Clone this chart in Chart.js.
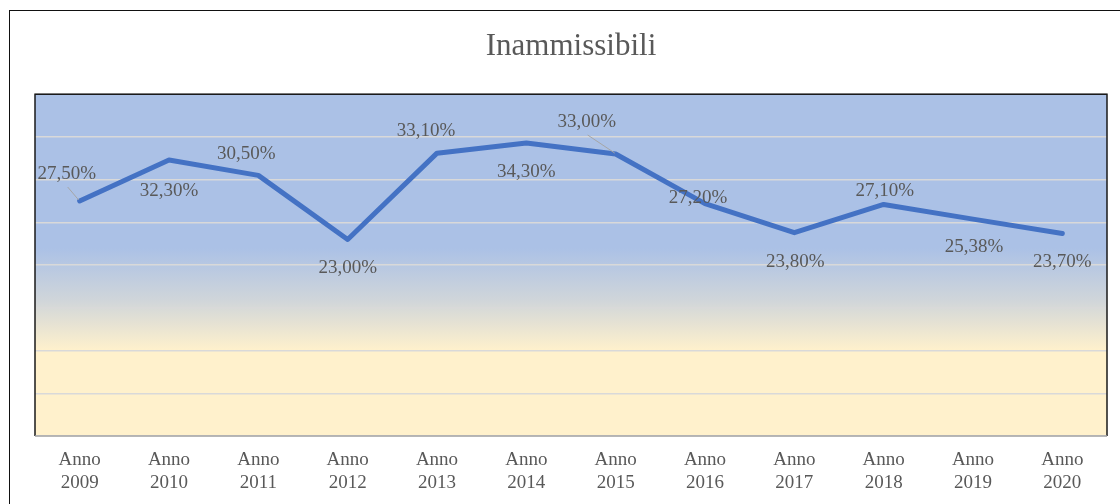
<!DOCTYPE html>
<html>
<head>
<meta charset="utf-8">
<script src="https://cdn.jsdelivr.net/npm/chart.js@4.4.1/dist/chart.umd.min.js"></script>
<style>
  html, body { margin: 0; padding: 0; background: #fff; overflow: hidden; }
  #frame { position: absolute; left: 9px; top: 10px; width: 1140px; height: 540px; border: 1.5px solid #111; }
  #wrap { position: absolute; left: 0; top: 0; width: 1120px; height: 504px; }
</style>
</head>
<body>
<div id="frame"></div>
<div id="wrap"><canvas id="chart-inammissibili"></canvas></div>
<script>
// Dati
const anni = ['2009', '2010', '2011', '2012', '2013', '2014', '2015', '2016', '2017', '2018', '2019', '2020'];
const inammissibili = [27.5, 32.3, 30.5, 23.0, 33.1, 34.3, 33.0, 27.2, 23.8, 27.1, 25.38, 23.7];
const yMin = 0;
const yMax = 40;
const yStep = 5;

const fontFamily = '"Liberation Serif", "DejaVu Serif", serif';
const textColor = '#595959';

// posizione delle etichette rispetto al punto (dx, dy, linea guida)
const labelOffsets = [
  [-13, -27, true], [0, 31], [-12, -21], [0, 29], [-11, -22], [0, 29],
  [-29, -32, true], [-7, -6], [1, 29], [1, -13], [1, 28], [0, 29]
];

const plotArea = {
  id: 'plotArea',
  beforeDraw(chart) {
    const { ctx, chartArea: a } = chart;
    const g = ctx.createLinearGradient(0, a.top, 0, a.bottom);
    g.addColorStop(0, '#abc1e6');
    g.addColorStop(0.45, '#abc1e6');
    g.addColorStop(0.6, '#cfd5da');
    g.addColorStop(0.75, '#fff1cc');
    g.addColorStop(1, '#fff1cc');
    ctx.save();
    ctx.fillStyle = g;
    ctx.fillRect(a.left, a.top, a.right - a.left, a.bottom - a.top);
    ctx.restore();
  },
  afterDraw(chart) {
    const { ctx, chartArea: a } = chart;
    ctx.save();
    ctx.strokeStyle = '#1a1a1a';
    ctx.lineWidth = 1.5;
    ctx.beginPath();
    ctx.moveTo(a.left, a.bottom);
    ctx.lineTo(a.left, a.top);
    ctx.lineTo(a.right, a.top);
    ctx.lineTo(a.right, a.bottom);
    ctx.stroke();
    ctx.strokeStyle = '#a6a6a6';
    ctx.beginPath();
    ctx.moveTo(a.left, a.bottom);
    ctx.lineTo(a.right, a.bottom);
    ctx.stroke();
    ctx.restore();
  }
};

const valueLabels = {
  id: 'valueLabels',
  afterDatasetsDraw(chart) {
    const { ctx } = chart;
    const meta = chart.getDatasetMeta(0);
    ctx.save();
    ctx.font = '19px ' + fontFamily;
    ctx.fillStyle = textColor;
    ctx.textAlign = 'center';
    ctx.textBaseline = 'middle';
    meta.data.forEach((pt, i) => {
      const [dx, dy, leader] = labelOffsets[i];
      const x = pt.x + dx, y = pt.y + dy;
      if (leader) {
        ctx.strokeStyle = '#a6a6a6';
        ctx.lineWidth = 1;
        ctx.beginPath();
        ctx.moveTo(x + 1, y + 13);
        ctx.lineTo(pt.x - 1, pt.y - 1);
        ctx.stroke();
      }
      const txt = inammissibili[i].toFixed(2).replace('.', ',') + '%';
      ctx.fillText(txt, x, y);
    });
    ctx.restore();
  }
};

new Chart(document.getElementById('chart-inammissibili'), {
  type: 'line',
  data: {
    labels: anni.map(a => ['Anno', a]),
    datasets: [{
      label: 'Inammissibili',
      data: inammissibili,
      borderColor: '#4472c4',
      borderWidth: 5,
      pointRadius: 0,
      tension: 0,
      borderCapStyle: 'round',
      borderJoinStyle: 'round'
    }]
  },
  options: {
    responsive: true,
    maintainAspectRatio: false,
    animation: false,
    layout: { padding: { left: 35, right: 13, top: 0, bottom: 0 } },
    plugins: {
      legend: { display: false },
      tooltip: { enabled: false },
      title: {
        display: true,
        text: 'Inammissibili',
        color: textColor,
        font: { family: fontFamily, size: 31, weight: 'normal', lineHeight: 1.2 },
        padding: { top: 28, bottom: 29 }
      }
    },
    scales: {
      x: {
        offset: true,
        grid: { display: false, drawTicks: false },
        border: { display: false },
        ticks: {
          color: textColor,
          padding: 13,
          maxRotation: 0,
          font: { family: fontFamily, size: 19, lineHeight: 1.21 }
        },
        afterFit(s) { s.height = 68; }
      },
      y: {
        min: yMin,
        max: yMax,
        ticks: { display: false, stepSize: yStep },
        grid: { color: '#d9d9d9', lineWidth: 1.5, drawTicks: false },
        border: { display: false },
        afterFit(s) { s.width = 0; }
      }
    }
  },
  plugins: [plotArea, valueLabels]
});
</script>
</body>
</html>
